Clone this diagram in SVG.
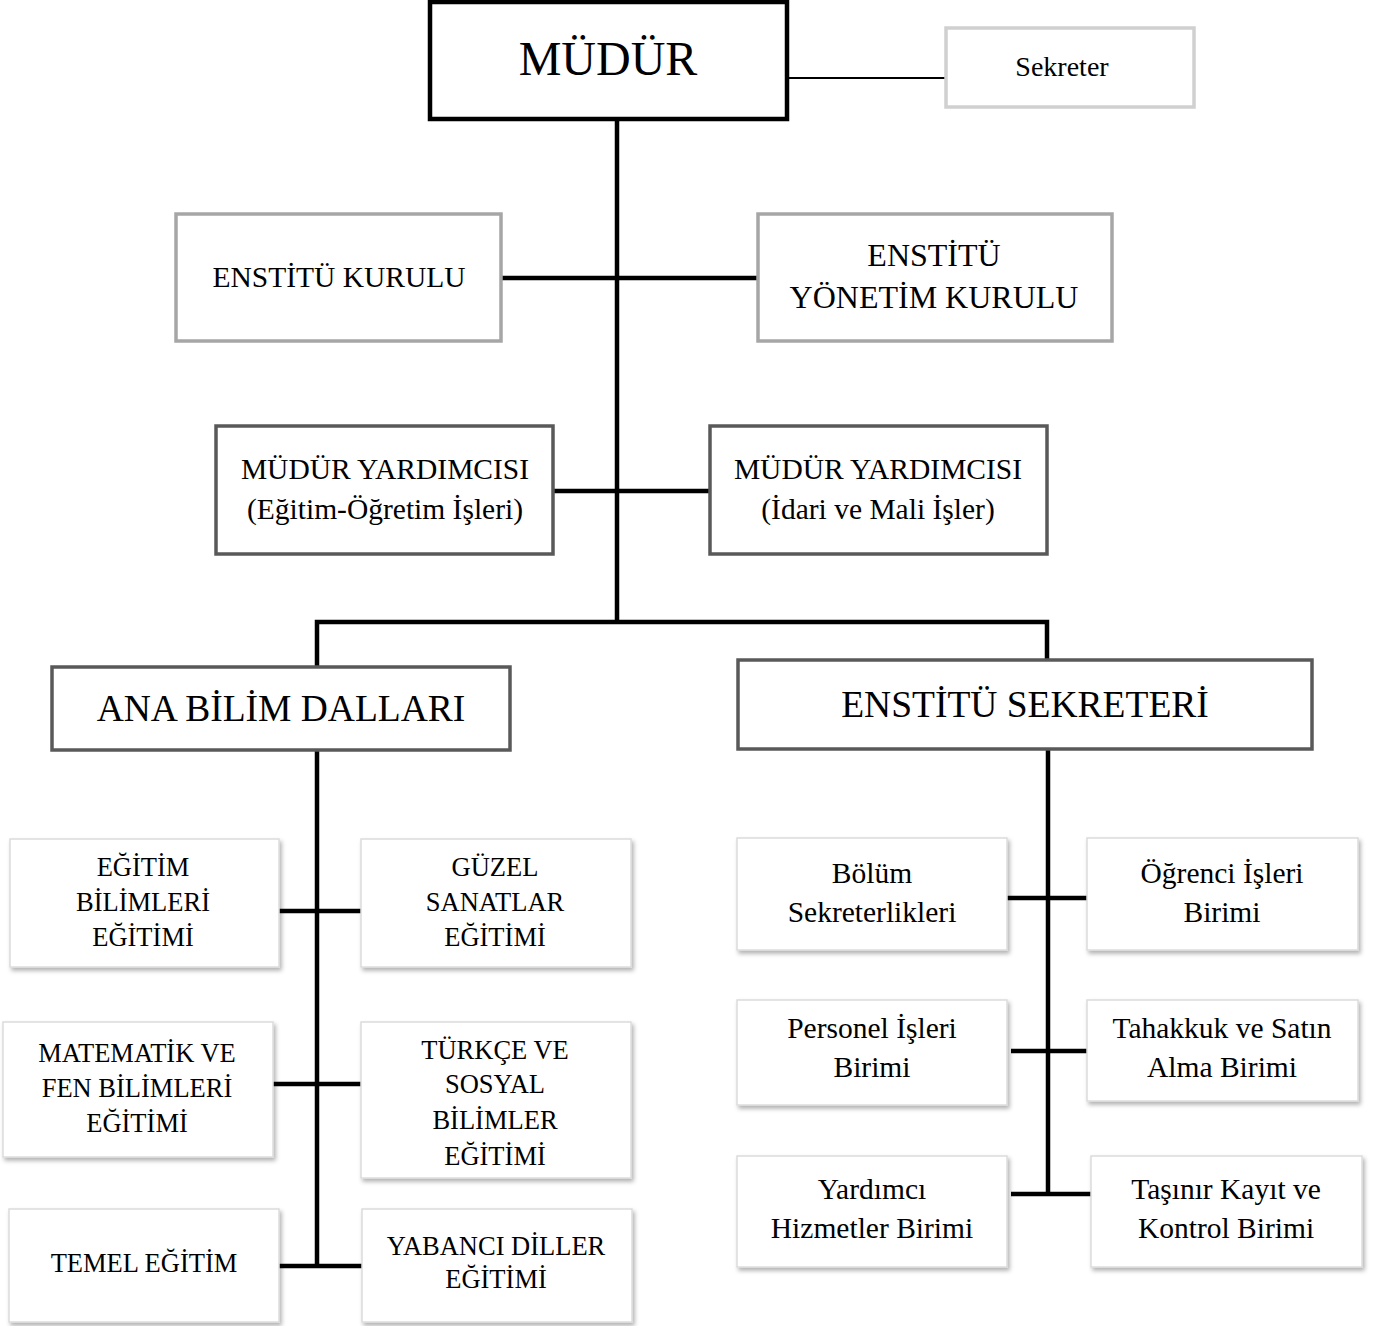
<svg xmlns="http://www.w3.org/2000/svg" width="1374" height="1326" viewBox="0 0 1374 1326">
<defs>
<style>
text{font-family:"Liberation Serif","Times New Roman",serif;fill:#000;text-anchor:middle}
.bx{fill:#fff}
.k{stroke:#000;stroke-width:4.5}
.lg{stroke:#d0d0d0;stroke-width:3.5}
.g{stroke:#a6a6a6;stroke-width:3.5}
.dg{stroke:#595959;stroke-width:3.5}
.sh{stroke:#dcdcdc;stroke-width:1.5;filter:url(#ds)}
.c{stroke:#000;stroke-width:4.5;fill:none}
.t24{font-size:26.5px}
.t26{font-size:29.5px}
.t34{font-size:37.5px}
</style>
<filter id="ds" x="-10%" y="-10%" width="125%" height="130%">
<feDropShadow dx="2" dy="3" stdDeviation="2" flood-color="#000" flood-opacity="0.3"/>
</filter>
</defs>
<rect width="1374" height="1326" fill="#fff"/>
<g id="connectors">
<line x1="787" y1="78" x2="946" y2="78" stroke="#000" stroke-width="2"/>
<line class="c" x1="617" y1="119" x2="617" y2="622"/>
<line class="c" x1="501" y1="278" x2="758" y2="278"/>
<line class="c" x1="553" y1="491" x2="710" y2="491"/>
<polyline class="c" points="317,667 317,622 1047,622 1047,667"/>
<line class="c" x1="317" y1="750" x2="317" y2="1268"/>
<line class="c" x1="279" y1="911" x2="361" y2="911"/>
<line class="c" x1="273" y1="1084" x2="361" y2="1084"/>
<line class="c" x1="279" y1="1266" x2="362" y2="1266"/>
<line class="c" x1="1048" y1="749" x2="1048" y2="1196"/>
<line class="c" x1="1007" y1="898" x2="1087" y2="898"/>
<line class="c" x1="1011" y1="1051" x2="1087" y2="1051"/>
<line class="c" x1="1011" y1="1194" x2="1091" y2="1194"/>
</g>
<g id="mudur"><rect class="bx k" x="430" y="2" width="357" height="117"/><text x="608" y="75" font-size="48">MÜDÜR</text></g>
<g id="sekreter"><rect class="bx lg" x="946" y="28" width="248" height="79"/><text x="1062" y="76" font-size="28">Sekreter</text></g>
<g id="enstitu-kurulu"><rect class="bx g" x="176" y="214" width="325" height="127"/><text class="t26" x="339" y="287">ENSTİTÜ KURULU</text></g>
<g id="enstitu-yonetim"><rect class="bx g" x="758" y="214" width="354" height="127"/><text x="934" y="266" font-size="32">ENSTİTÜ</text><text x="934" y="308" font-size="32">YÖNETİM KURULU</text></g>
<g id="mudur-yrd-egitim"><rect class="bx dg" x="216" y="426" width="337" height="128"/><text class="t26" x="385" y="479">MÜDÜR YARDIMCISI</text><text class="t26" x="385" y="519">(Eğitim-Öğretim İşleri)</text></g>
<g id="mudur-yrd-idari"><rect class="bx dg" x="710" y="426" width="337" height="128"/><text class="t26" x="878" y="479">MÜDÜR YARDIMCISI</text><text class="t26" x="878" y="519">(İdari ve Mali İşler)</text></g>
<g id="ana-bilim"><rect class="bx dg" x="52" y="667" width="458" height="83"/><text class="t34" x="281" y="721">ANA BİLİM DALLARI</text></g>
<g id="enstitu-sekreteri"><rect class="bx dg" x="738" y="660" width="574" height="89"/><text class="t34" x="1025" y="717">ENSTİTÜ SEKRETERİ</text></g>
<g id="egitim-bilimleri"><rect class="bx sh" x="10" y="839" width="269" height="128"/><text class="t24" x="143" y="876">EĞİTİM</text><text class="t24" x="143" y="911">BİLİMLERİ</text><text class="t24" x="143" y="946">EĞİTİMİ</text></g>
<g id="guzel-sanatlar"><rect class="bx sh" x="361" y="839" width="270" height="128"/><text class="t24" x="495" y="876">GÜZEL</text><text class="t24" x="495" y="911">SANATLAR</text><text class="t24" x="495" y="946">EĞİTİMİ</text></g>
<g id="matematik-fen"><rect class="bx sh" x="3" y="1022" width="270" height="135"/><text class="t24" x="137" y="1062">MATEMATİK VE</text><text class="t24" x="137" y="1097">FEN BİLİMLERİ</text><text class="t24" x="137" y="1132">EĞİTİMİ</text></g>
<g id="turkce-sosyal"><rect class="bx sh" x="361" y="1022" width="270" height="156"/><text class="t24" x="495" y="1059">TÜRKÇE VE</text><text class="t24" x="495" y="1093">SOSYAL</text><text class="t24" x="495" y="1129">BİLİMLER</text><text class="t24" x="495" y="1165">EĞİTİMİ</text></g>
<g id="temel-egitim"><rect class="bx sh" x="9" y="1209" width="270" height="113"/><text class="t24" x="144" y="1272">TEMEL EĞİTİM</text></g>
<g id="yabanci-diller"><rect class="bx sh" x="362" y="1209" width="270" height="113"/><text class="t24" x="496" y="1255">YABANCI DİLLER</text><text class="t24" x="496" y="1288">EĞİTİMİ</text></g>
<g id="bolum-sekreterlikleri"><rect class="bx sh" x="737" y="838" width="270" height="112"/><text class="t26" x="872" y="883">Bölüm</text><text class="t26" x="872" y="922">Sekreterlikleri</text></g>
<g id="ogrenci-isleri"><rect class="bx sh" x="1087" y="838" width="271" height="112"/><text class="t26" x="1222" y="883">Öğrenci İşleri</text><text class="t26" x="1222" y="922">Birimi</text></g>
<g id="personel-isleri"><rect class="bx sh" x="737" y="1000" width="270" height="105"/><text class="t26" x="872" y="1038">Personel İşleri</text><text class="t26" x="872" y="1077">Birimi</text></g>
<g id="tahakkuk"><rect class="bx sh" x="1087" y="1000" width="271" height="101"/><text class="t26" x="1222" y="1038">Tahakkuk ve Satın</text><text class="t26" x="1222" y="1077">Alma Birimi</text></g>
<g id="yardimci-hizmetler"><rect class="bx sh" x="737" y="1156" width="270" height="111"/><text class="t26" x="872" y="1199">Yardımcı</text><text class="t26" x="872" y="1238">Hizmetler Birimi</text></g>
<g id="tasinir"><rect class="bx sh" x="1091" y="1156" width="271" height="111"/><text class="t26" x="1226" y="1199">Taşınır Kayıt ve</text><text class="t26" x="1226" y="1238">Kontrol Birimi</text></g>
</svg>
